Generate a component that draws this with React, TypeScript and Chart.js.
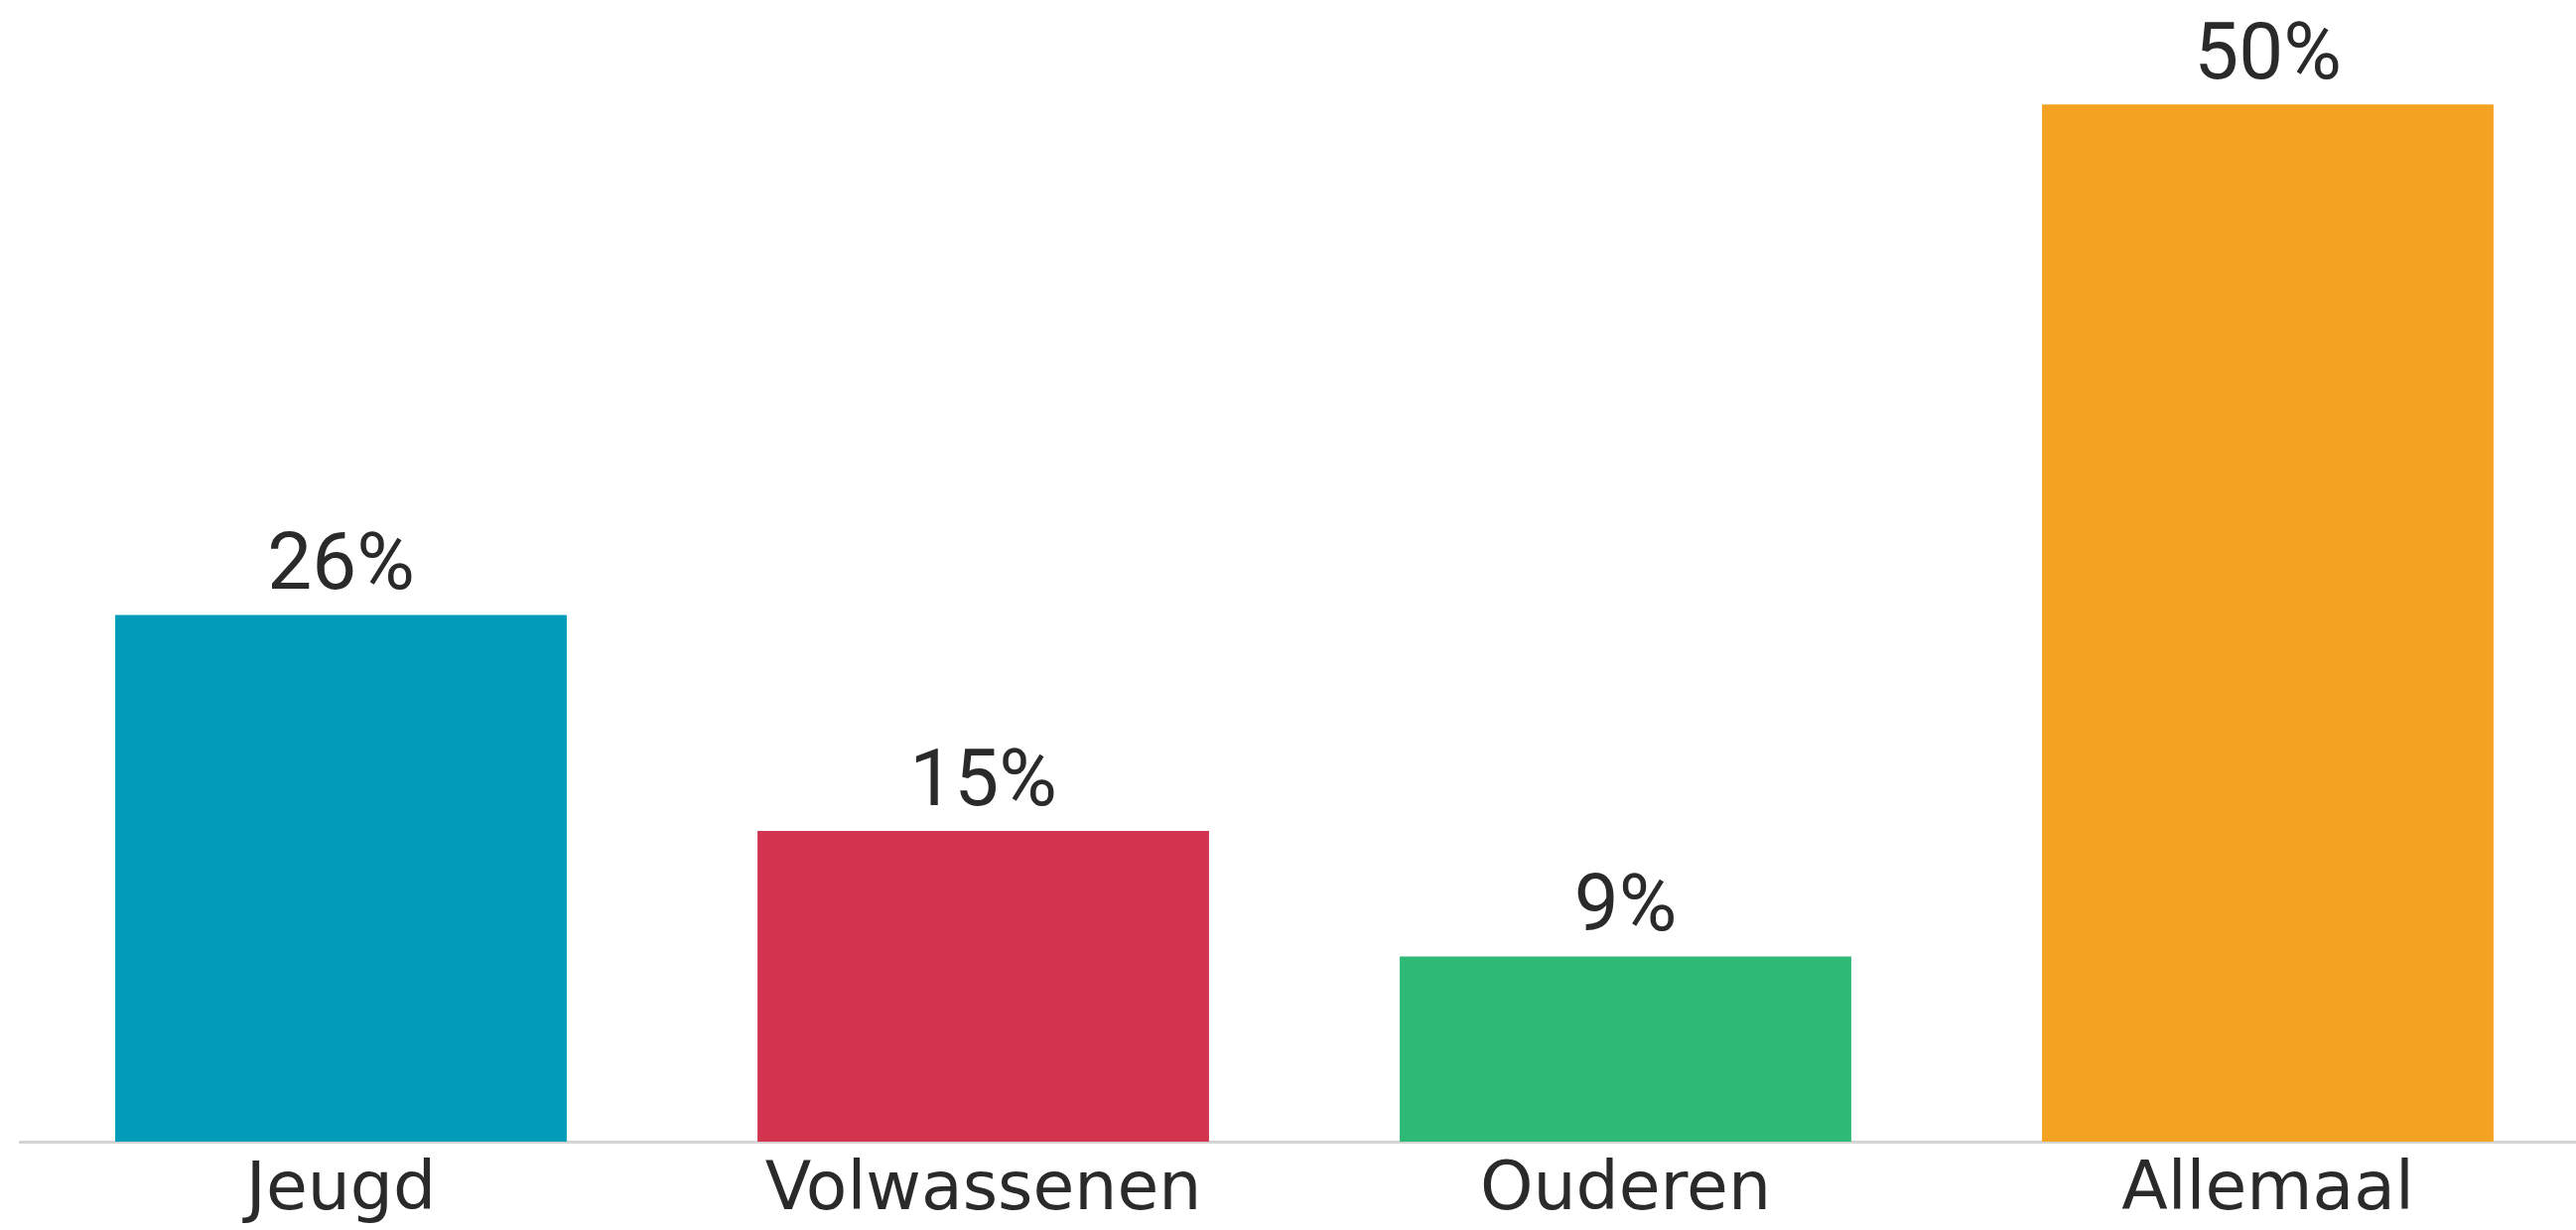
import React, { useEffect, useRef } from "react";
import { Chart, registerables } from "chart.js";

Chart.register(...registerables);

const categories = ["Jeugd", "Volwassenen", "Ouderen", "Allemaal"];
const values = [25.6, 15.1, 9.0, 50.4];
const barColors = ["#019cb9", "#d3334f", "#2eb976", "#f3a221"];

const W = 2608;
const H = 1239;

const valueLabelPlugin = {
  id: "valueLabels",
  afterDatasetsDraw(chart: any) {
    const ctx = chart.ctx;
    const meta = chart.getDatasetMeta(0);
    ctx.save();
    ctx.fillStyle = "#2a2a2a";
    ctx.font = "80px Roboto";
    ctx.textAlign = "center";
    ctx.textBaseline = "alphabetic";
    meta.data.forEach((bar: any, i: number) => {
      const v = chart.data.datasets[0].data[i] as number;
      ctx.fillText(Math.round(v) + "%", bar.x, bar.y - 26);
    });
    ctx.restore();
  },
};

export default function App() {
  const ref = useRef<HTMLCanvasElement | null>(null);
  useEffect(() => {
    if (!ref.current) return;
    const chart = new Chart(ref.current, {
      type: "bar",
      data: {
        labels: categories,
        datasets: [
          {
            data: values,
            backgroundColor: barColors,
            borderWidth: 0,
            categoryPercentage: 1,
            barPercentage: 0.703,
          },
        ],
      },
      options: {
        responsive: false,
        animation: false,
        devicePixelRatio: 1,
        layout: { padding: { left: 20, right: 0, top: 10, bottom: 0 } },
        plugins: { legend: { display: false }, tooltip: { enabled: false } },
        scales: {
          x: {
            grid: { display: true, drawOnChartArea: false, drawTicks: false, color: "rgba(0,0,0,0)" },
            border: { display: true, color: "#d4d4d4", width: 3 },
            ticks: {
              color: "#2a2a2a",
              font: { family: "DejaVu Sans", size: 68, lineHeight: 1.2 },
              padding: 10,
              maxRotation: 0,
            },
            afterFit: (s: any) => {
              s.height = 89;
            },
          },
          y: {
            display: false,
            min: 0,
            max: 55,
          },
        },
      },
      plugins: [valueLabelPlugin],
    });
    return () => chart.destroy();
  }, []);
  return (
    <div style={{ position: "absolute", left: 0, top: 0, width: 2595, height: H, overflow: "hidden", background: "#fff" }}>
      <canvas ref={ref} width={W} height={H} style={{ width: W, height: H, display: "block" }} />
    </div>
  );
}
